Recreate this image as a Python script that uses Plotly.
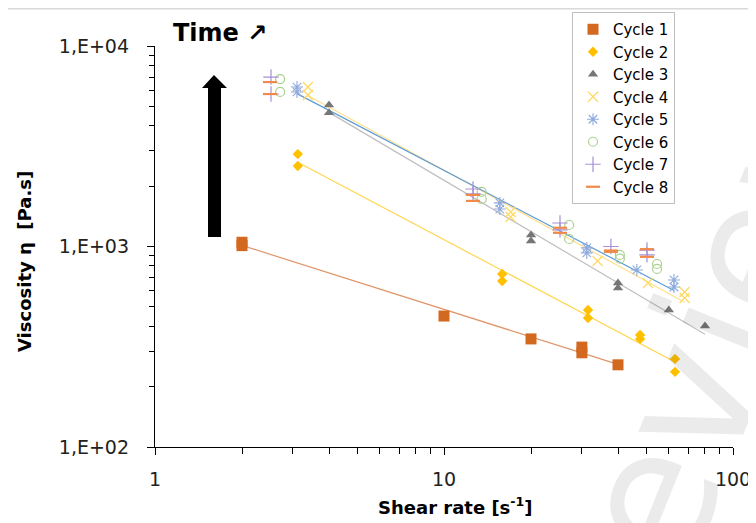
import numpy as np
import plotly.graph_objects as go

# ---- data ----
c1_x = [2, 2, 10, 20, 30, 30, 40]
c1_y = [1050, 1010, 450, 346, 315, 295, 257]
c2_x = [3.12, 3.12, 15.9, 15.9, 31.5, 31.5, 47.7, 47.7, 63, 63]
c2_y = [2890, 2520, 729, 673, 482, 440, 362, 346, 275, 237]
c3_x = [4, 4, 20, 20, 40, 40, 60, 80]
c3_y = [5080, 4640, 1140, 1064, 658, 621, 482, 401]
c4_x = [3.38, 3.38, 17, 17, 34, 50.8, 68, 68]
c4_y = [6240, 5700, 1485, 1403, 847, 658, 593, 553]
c5_x = [3.1, 3.1, 15.6, 15.6, 31.2, 31.2, 46.5, 62.5, 62.5]
c5_y = [6240, 5900, 1650, 1538, 984, 929, 764, 681, 628]
c6_x = [2.71, 2.71, 13.5, 13.5, 27.1, 27.1, 40.6, 40.6, 54.6, 54.6]
c6_y = [6840, 5900, 1872, 1725, 1280, 1090, 908, 870, 818, 773]
c7_x = [2.52, 2.52, 12.6, 12.6, 25.2, 25.2, 37.8, 50.4, 50.4]
c7_y = [7000, 5760, 1935, 1830, 1310, 1210, 1000, 960, 908]
c8_x = [2.5, 2.5, 12.6, 12.6, 25.2, 25.2, 37.8, 37.8, 50.4, 50.4]
c8_y = [6610, 5760, 1808, 1688, 1240, 1170, 955, 940, 970, 888]

series = [
    ("Cycle 1", c1_x, c1_y),
    ("Cycle 2", c2_x, c2_y),
    ("Cycle 3", c3_x, c3_y),
    ("Cycle 4", c4_x, c4_y),
    ("Cycle 5", c5_x, c5_y),
    ("Cycle 6", c6_x, c6_y),
    ("Cycle 7", c7_x, c7_y),
    ("Cycle 8", c8_x, c8_y),
]

y_tickvals = [100, 1000, 10000]
y_ticktext = ["1,E+02", "1,E+03", "1,E+04"]
x_tickvals = [1, 10, 100]
x_ticktext = ["1", "10", "100"]

# ---- styles ----
FONT = "DejaVu Sans, Open Sans, sans-serif"
styles = {
    "Cycle 1": dict(symbol="square", color="#d2691e", size=11, lw=0),
    "Cycle 2": dict(symbol="diamond", color="#ffc000", size=8, lw=0),
    "Cycle 3": dict(symbol="triangle-up", color="#767676", size=9, lw=0),
    "Cycle 4": dict(symbol="x-thin-open", color="#ffd966", size=10, lw=1.3),
    "Cycle 5": dict(symbol="asterisk-open", color="#8faadc", size=10, lw=1.1),
    "Cycle 6": dict(symbol="circle-open", color="#a9d18e", size=9, lw=1.2),
    "Cycle 7": dict(symbol="cross-thin-open", color="#a68fd6", size=11, lw=1.2),
    "Cycle 8": dict(symbol="line-ew-open", color="#f08a4b", size=10, lw=2.2),
}
trend_colors = {
    "Cycle 1": "#e0956a",
    "Cycle 2": "#ffd54f",
    "Cycle 3": "#bfbfbf",
    "Cycle 4": "#ffe08a",
    "Cycle 5": "#5b9bd5",
}

fig = go.Figure()

# power-law trendlines (computed from data)
for name, xs, ys in series:
    if name not in trend_colors:
        continue
    lx, ly = np.log10(xs), np.log10(ys)
    b, a = np.polyfit(lx, ly, 1)
    xr = np.array([min(xs), max(xs)])
    yr = 10 ** (a + b * np.log10(xr))
    fig.add_trace(go.Scatter(x=xr, y=yr, mode="lines", showlegend=False,
                             line=dict(color=trend_colors[name], width=1.2),
                             hoverinfo="skip"))

for name, xs, ys in series:
    s = styles[name]
    fig.add_trace(go.Scatter(
        x=xs, y=ys, mode="markers", name=name,
        marker=dict(symbol=s["symbol"], color=s["color"], size=s["size"],
                    line=dict(color=s["color"], width=s["lw"]))))

# page body has an 8px offset; work in window pixels
OFF = 8
W, H = 756, 523
L, R, T, B = 155, 733, 46, 447


def px(x):
    return (x - L) / (R - L)


def py(y):
    return (B - y) / (B - T)


# watermark (semi-transparent so the marks show through)
fig.add_annotation(text="Preview", xref="paper", yref="paper",
                   x=px(693), y=py(391), xanchor="center", yanchor="middle",
                   textangle=-68, showarrow=False,
                   font=dict(size=180, color="rgba(0,0,0,0.08)", family=FONT))

# big black arrow (paper coordinates)
arrow_path = "M {} {} L {} {} L {} {} L {} {} L {} {} L {} {} L {} {} Z".format(
    px(208), py(237), px(208), py(88), px(202), py(88), px(214), py(75),
    px(227), py(88), px(221), py(88), px(221), py(237))
fig.add_shape(type="path", path=arrow_path, xref="paper", yref="paper",
              fillcolor="black", line=dict(color="black", width=0))
# top grey border line
fig.add_shape(type="line", xref="paper", yref="paper",
              x0=px(0), x1=px(770), y0=py(8.7), y1=py(8.7),
              line=dict(color="#d9d9d9", width=1.5))

fig.add_annotation(text="<b>Time ↗</b>", xref="paper", yref="paper",
                   x=px(171), y=py(33), xanchor="left", yanchor="middle",
                   showarrow=False, font=dict(size=24, color="black",
                                              family=FONT))
# axis titles as annotations (placed as in the reference)
fig.add_annotation(text="<b>Viscosity η  [Pa.s]</b>", xref="paper", yref="paper",
                   x=px(24), y=py(262), xanchor="center", yanchor="middle",
                   textangle=-90, showarrow=False,
                   font=dict(size=18, color="black", family=FONT))
fig.add_annotation(text="<b>Shear rate [s<sup>-1</sup>]</b>", xref="paper",
                   yref="paper", x=px(455), y=py(506), xanchor="center",
                   yanchor="middle", showarrow=False,
                   font=dict(size=18, color="black", family=FONT))

minor_x = [2, 3, 4, 5, 6, 7, 8, 9, 20, 30, 40, 50, 60, 70, 80, 90]
minor_y = [200, 300, 400, 500, 600, 700, 800, 900,
           2000, 3000, 4000, 5000, 6000, 7000, 8000, 9000]

fig.update_xaxes(type="log", range=[0, 2], showgrid=False, zeroline=False,
                 automargin=False,
                 showline=True, linecolor="black", linewidth=1.3,
                 ticks="outside", ticklen=7, tickcolor="black", tickwidth=1.2,
                 tickvals=x_tickvals, ticktext=x_ticktext,
                 ticklabelstandoff=8,
                 minor=dict(ticks="outside", ticklen=6, tickcolor="black",
                            tickwidth=1.2, tickvals=minor_x, showgrid=False),
                 tickfont=dict(size=19, color="#222", family=FONT))
fig.update_yaxes(type="log", range=[2, 4], showgrid=False, zeroline=False,
                 automargin=False,
                 showline=True, linecolor="black", linewidth=1.3,
                 ticks="outside", ticklen=7, tickcolor="black", tickwidth=1.2,
                 tickvals=y_tickvals, ticktext=y_ticktext,
                 ticklabelstandoff=14,
                 minor=dict(ticks="outside", ticklen=5, tickcolor="black",
                            tickwidth=1.2, tickvals=minor_y, showgrid=False),
                 tickfont=dict(size=19, color="#222", family=FONT))

fig.update_layout(
    width=W, height=H,
    margin=dict(l=L - OFF, r=W - R + OFF, t=T - OFF, b=H - B + OFF,
                autoexpand=False),
    paper_bgcolor="white", plot_bgcolor="white",
    font=dict(family=FONT, color="black"),
    legend=dict(x=px(572), y=py(12),
                xanchor="left", yanchor="top",
                bordercolor="#bfbfbf", borderwidth=1, bgcolor="white",
                font=dict(size=15, family=FONT), tracegroupgap=0,
                itemwidth=30),
)

fig.write_html("out.html")
